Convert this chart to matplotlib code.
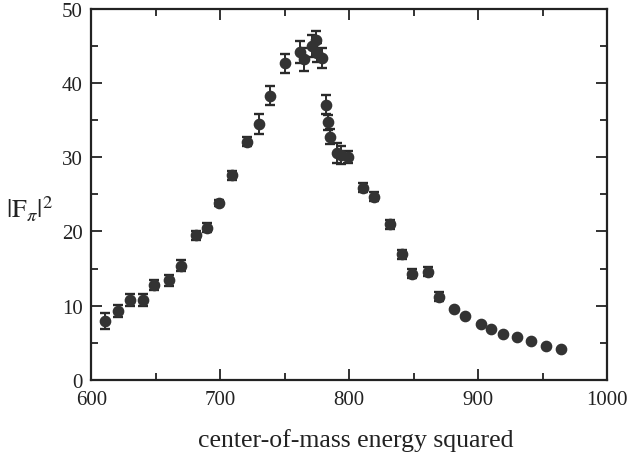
import matplotlib
matplotlib.use("Agg")
import matplotlib.pyplot as plt
import matplotlib.transforms as mtransforms
from matplotlib.ticker import MultipleLocator

plt.rcParams['font.family'] = ['Liberation Serif', 'DejaVu Serif']
plt.rcParams['mathtext.fontset'] = 'stix'

# s (center-of-mass energy squared) and |F_pi|^2
s = [611, 621, 630, 640, 649, 660, 670, 681, 690, 699,
     709, 721, 730, 739, 750, 762, 765, 771, 774, 775,
     779, 782, 784, 785, 791, 794, 799, 811, 819, 832,
     841, 849, 861, 870, 881, 890, 902, 910, 919, 930,
     941, 953, 964]
F2 = [7.9, 9.3, 10.7, 10.8, 12.8, 13.4, 15.4, 19.5, 20.5, 23.9,
      27.6, 32.1, 34.5, 38.3, 42.7, 44.2, 43.2, 45.0, 45.8, 44.1,
      43.4, 37.1, 34.7, 32.8, 30.6, 30.3, 30.0, 25.9, 24.7, 21.0,
      16.9, 14.3, 14.6, 11.2, 9.6, 8.6, 7.5, 6.9, 6.2, 5.8,
      5.2, 4.6, 4.2]
err = [1.1, 0.8, 0.8, 0.8, 0.7, 0.7, 0.7, 0.6, 0.6, 0.4,
       0.6, 0.6, 1.3, 1.3, 1.3, 1.5, 1.5, 1.5, 1.2, 1.3,
       1.3, 1.3, 1.0, 1.0, 1.3, 1.2, 0.8, 0.6, 0.6, 0.6,
       0.6, 0.6, 0.6, 0.6, 0.0, 0.0, 0.0, 0.0, 0.0, 0.0,
       0.0, 0.0, 0.0]

fig = plt.figure(figsize=(6.29, 4.56), dpi=100)
ax = fig.add_axes([0.145, 0.165, 0.82, 0.813])

ax.errorbar(s, F2, yerr=err, fmt='none', ecolor='#2a2a2a',
            elinewidth=1.4, capsize=3.8, capthick=1.7, zorder=2)
ax.plot(s, F2, 'o', color='#333333', markersize=7.4, zorder=3)

ax.set_xlim(600, 1000)
ax.set_ylim(0, 50)
ax.xaxis.set_major_locator(MultipleLocator(100))
ax.xaxis.set_minor_locator(MultipleLocator(50))
ax.yaxis.set_major_locator(MultipleLocator(10))
ax.yaxis.set_minor_locator(MultipleLocator(5))
ax.tick_params(which='both', direction='in', top=True, right=True,
               width=1.3, colors='#222222', labelsize=15)
ax.tick_params(which='major', length=8)
ax.tick_params(which='minor', length=5)
ax.tick_params(axis='y', pad=6)
ax.tick_params(axis='x', pad=7.5)
for sp in ax.spines.values():
    sp.set_linewidth(1.6)
    sp.set_color('#222222')

# the "0" sits just above the "600" in the corner
fig.canvas.draw()
zero = ax.get_yticklabels()[0]
zero.set_transform(zero.get_transform() +
                   mtransforms.ScaledTranslation(0, 3 / 72, fig.dpi_scale_trans))

fig.text(0.048, 0.54, r'$|\mathrm{F}_{\pi}|^2$', fontsize=19,
         ha='center', va='center', color='#222222')
fig.text(0.566, 0.035, 'center-of-mass energy squared', fontsize=18.5,
         ha='center', va='center', color='#222222')

fig.savefig('out.png', dpi=100)
